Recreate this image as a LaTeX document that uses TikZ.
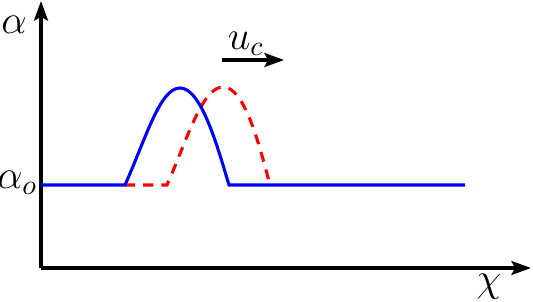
\documentclass[tikz,border=0pt]{standalone}
\usetikzlibrary{arrows.meta}
\begin{document}
\begin{tikzpicture}[x=0.01255cm,y=-0.01255cm,
  axis/.style={line width=1.1pt,-{Stealth[length=7pt,width=5pt,inset=1.3pt]}},
  bluecurve/.style={blue,line width=1.1pt},
  redcurve/.style={red,line width=1.1pt,dash pattern=on 3.6pt off 2.9pt},
  lbl/.style={inner sep=0pt,font=\Large}]
\useasboundingbox (0,0) rectangle (533,302);
\coordinate (O) at (41,268);
\coordinate (ytop) at (41,1);
\coordinate (xend) at (531,268);
\draw[axis] (O) -- (ytop);
\draw[axis] (O) -- (xend);
\node[lbl] (alpha) at (14,25) {$\alpha$};
\node[lbl] (chi) at (489,287) {$\chi$};
\node[lbl,anchor=east] (alphao) at (38,183) {$\alpha_o$};
% red dashed shifted pulse
\coordinate (r0) at (125,185);
\coordinate (r1) at (167,185);
\coordinate (rp) at (223,87);
\coordinate (r2) at (270,185);
\draw[redcurve] (r0) -- (r1) .. controls (187,140) and (202,87) .. (rp)
   .. controls (244,87) and (258,140) .. (r2);
% blue pulse
\coordinate (b0) at (41,185);
\coordinate (b1) at (125,185);
\coordinate (bp) at (180,88);
\coordinate (b2) at (229,185);
\coordinate (b3) at (465,185);
\draw[bluecurve] (b0) -- (b1) .. controls (146,138) and (160,88) .. (bp)
   .. controls (201,88) and (217,145) .. (b2) -- (b3);
% velocity arrow
\coordinate (u0) at (222,60);
\coordinate (u1) at (284,60);
\draw[axis] (u0) -- (u1);
\node[lbl] (uc) at (246,44) {$u_c$};
\end{tikzpicture}
\end{document}
